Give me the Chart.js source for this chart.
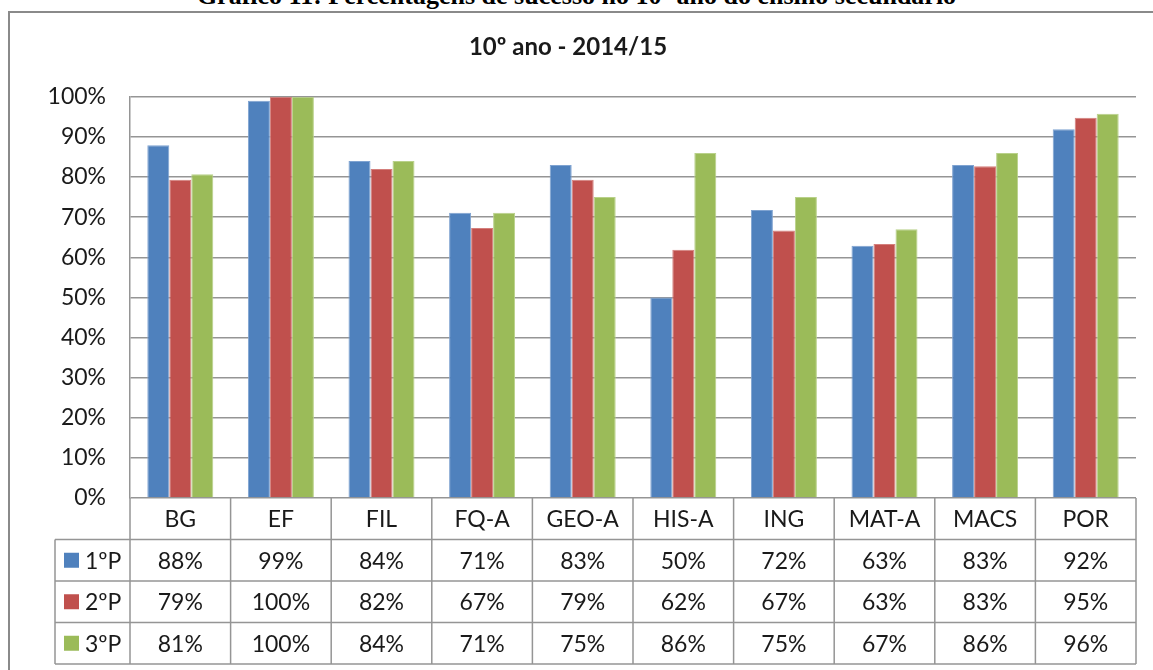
<!DOCTYPE html>
<html>
<head>
<meta charset="utf-8">
<script src="https://cdn.jsdelivr.net/npm/chart.js@4/dist/chart.umd.min.js"></script>
<style>
  body { margin: 0; background: #fff; overflow: hidden; }
  #wrap { position: relative; width: 1153px; height: 670px; }
  #caption {
    position: absolute; left: 0; width: 1153px; top: -19px; text-align: center;
    font: bold 26px "Liberation Serif", "DejaVu Serif", serif; color: #000;
    white-space: nowrap;
  }
  #frame {
    position: absolute; left: 8px; top: 11px; width: 1200px; height: 700px;
    border-left: 2px solid #8a8a8a; border-top: 2px solid #8a8a8a;
  }
  canvas { position: absolute; left: 0; top: 0; }
</style>
</head>
<body>
<div id="wrap">
  <div id="caption">Gráfico 11: Percentagens de sucesso no 10º ano do ensino secundário</div>
  <div id="frame"></div>
  <canvas id="chart" width="1153" height="670"></canvas>
</div>
<script>
// disciplinas e percentagens por período
const categories = ["BG", "EF", "FIL", "FQ-A", "GEO-A", "HIS-A", "ING", "MAT-A", "MACS", "POR"];
const seriesNames = ["1ºP", "2ºP", "3ºP"];
const p1 = [87.9, 99.0, 84.0, 71.1, 83.0, 50.0, 71.8, 62.9, 83.0, 91.9];
const p2 = [79.3, 100, 82.0, 67.3, 79.3, 61.9, 66.7, 63.3, 82.7, 94.8];
const p3 = [80.7, 100, 84.0, 71.1, 75.0, 86.0, 75.0, 67.0, 86.0, 95.8];
const yTicks = [0, 10, 20, 30, 40, 50, 60, 70, 80, 90, 100];

const colors = ["#4F81BD", "#C0504D", "#9BBB59"];
const borders = ["#7FA3D1", "#D47F7C", "#B9D18A"];
const FONT = "Lato, 'Open Sans', sans-serif";
const TEXT = "#1a1a1a";
const LINE = "#959595";

// data table drawn under the plot, aligned to the x scale
const dataTablePlugin = {
    id: "dataTable",
    afterDraw(chart) {
        const ctx = chart.ctx;
        const area = chart.chartArea;
        const x = chart.scales.x;
        const rowH = 41.5;
        const half = (area.right - area.left) / categories.length / 2;
        const legendLeft = 55;
        const top = area.bottom;
        const rows = [p1, p2, p3];

        ctx.save();
        ctx.strokeStyle = LINE;
        ctx.lineWidth = 1.5;

        // horizontal lines
        ctx.beginPath();
        ctx.moveTo(area.left, top + rowH);
        ctx.lineTo(area.right, top + rowH);
        for (let r = 1; r <= 4; r++) {
            ctx.moveTo(legendLeft, top + rowH * r);
            ctx.lineTo(area.right, top + rowH * r);
        }

        // vertical lines
        ctx.moveTo(legendLeft, top + rowH);
        ctx.lineTo(legendLeft, top + rowH * 4);
        for (let i = 0; i < categories.length; i++) {
            const px = x.getPixelForValue(i) - half;
            ctx.moveTo(px, top);
            ctx.lineTo(px, top + rowH * 4);
        }
        ctx.moveTo(area.right, top);
        ctx.lineTo(area.right, top + rowH * 4);
        ctx.stroke();

        ctx.fillStyle = TEXT;
        ctx.font = "23px " + FONT;
        ctx.textAlign = "center";
        ctx.textBaseline = "middle";
        categories.forEach((c, i) => {
            ctx.fillText(c, x.getPixelForValue(i), top + rowH / 2 + 1);
        });

        rows.forEach((vals, r) => {
            const cy = top + rowH * (r + 1.5) + 1;
            vals.forEach((v, i) => {
                ctx.fillText(Math.round(v) + "%", x.getPixelForValue(i), cy);
            });
            // legend key
            ctx.fillStyle = colors[r];
            ctx.fillRect(64, cy - 8.5, 15, 15);
            ctx.fillStyle = TEXT;
            ctx.textAlign = "left";
            ctx.fillText(seriesNames[r], 85, cy);
            ctx.textAlign = "center";
        });
        ctx.restore();
    }
};

const ctx = document.getElementById("chart").getContext("2d");
new Chart(ctx, {
    type: "bar",
    data: {
        labels: categories,
        datasets: [p1, p2, p3].map((d, i) => ({
            label: seriesNames[i],
            data: d,
            backgroundColor: colors[i],
            borderColor: borders[i],
            borderWidth: 1,
            categoryPercentage: 0.656,
            barPercentage: 1.0
        }))
    },
    options: {
        responsive: false,
        animation: false,
        layout: { padding: { left: 0, right: 17, top: 0, bottom: 172 } },
        scales: {
            x: { display: false },
            y: {
                min: 0,
                max: 100,
                afterBuildTicks(scale) {
                    scale.ticks = yTicks.map(v => ({ value: v }));
                },
                afterFit(scale) { scale.width = 130; },
                ticks: {
                    padding: 24,
                    color: TEXT,
                    font: { family: FONT, size: 23 },
                    callback: v => v + "%"
                },
                grid: { color: LINE, lineWidth: 1.5, drawTicks: false },
                border: { display: true, color: LINE, width: 1.5 }
            }
        },
        plugins: {
            legend: { display: false },
            tooltip: { enabled: false },
            title: {
                display: true,
                text: "10º ano - 2014/15",
                color: TEXT,
                font: { family: FONT, size: 24, weight: "bold" },
                padding: { top: 33, bottom: 35 }
            }
        }
    },
    plugins: [dataTablePlugin]
});
</script>
</body>
</html>
